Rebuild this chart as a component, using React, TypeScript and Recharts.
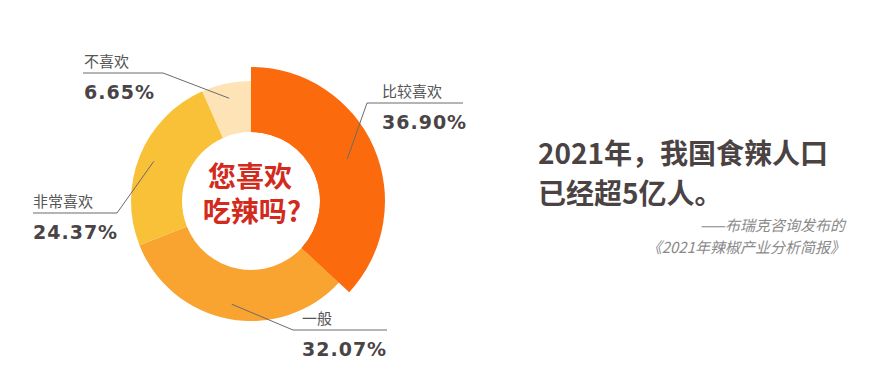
import React from "react";
import { PieChart, Pie, Cell } from "recharts";

const names = ["比较喜欢", "一般", "非常喜欢", "不喜欢"];
const shares = [36.9, 32.07, 24.37, 6.65];
const colors = ["#FB6A0C", "#F9A331", "#F9C137", "#FDE3B6"];

const rows = names.map((name, i) => ({ name, value: shares[i] }));

// where each leader line bends and where its text sits
const anchors = [
  { ex: 367, ey: 103, lx: 463, tx: 382 },
  { ex: 293, ey: 330, lx: 387, tx: 302 },
  { ex: 117, ey: 213, lx: 33, tx: 33 },
  { ex: 163, ey: 73, lx: 83, tx: 84 },
];

const RAD = Math.PI / 180;

function renderLabel(props: any) {
  const { cx, cy, midAngle, index, name, value } = props;
  const a = anchors[index];
  const r = 105;
  const sx = cx + r * Math.cos(-midAngle * RAD);
  const sy = cy + r * Math.sin(-midAngle * RAD);
  return (
    <g key={`lbl-${index}`}>
      <polyline
        points={`${sx},${sy} ${a.ex},${a.ey} ${a.lx},${a.ey}`}
        fill="none"
        stroke="#6b6b6b"
        strokeWidth={1}
      />
      <text
        x={a.tx}
        y={a.ey - 6}
        fill="#555"
        fontSize={15}
        fontFamily="'Noto Sans CJK SC', sans-serif"
      >
        {name}
      </text>
      <text
        x={a.tx}
        y={a.ey + 26}
        fill="#4a4446"
        fontSize={19}
        fontWeight={700}
        letterSpacing={1}
        fontFamily="'DejaVu Sans', sans-serif"
      >
        {value.toFixed(2)}%
      </text>
    </g>
  );
}

const centerLine: React.CSSProperties = {
  position: "absolute",
  left: 188,
  width: 124,
  height: 34,
  textAlign: "center",
  color: "#D32A1E",
  fontSize: 28,
  fontWeight: 700,
  lineHeight: "34px",
  fontFamily: "'Noto Sans CJK SC', sans-serif",
};

export default function App() {
  return (
    <div
      style={{
        position: "absolute",
        left: 0,
        top: 0,
        width: 885,
        height: 383,
        background: "#fff",
        overflow: "hidden",
      }}
    >
      <PieChart width={885} height={383}>
        <Pie
          data={rows}
          dataKey="value"
          nameKey="name"
          cx={246}
          cy={196}
          innerRadius={69}
          outerRadius={120}
          startAngle={90}
          endAngle={-270}
          stroke="none"
          isAnimationActive={false}
          labelLine={false}
          label={renderLabel}
        >
          {rows.map((r, i) => (
            <Cell key={r.name} fill={colors[i]} />
          ))}
        </Pie>
        <Pie
          data={rows}
          dataKey="value"
          nameKey="name"
          cx={246}
          cy={196}
          innerRadius={69}
          outerRadius={134}
          startAngle={90}
          endAngle={-270}
          stroke="none"
          isAnimationActive={false}
        >
          {rows.map((r, i) => (
            <Cell key={r.name} fill={i === 0 ? colors[0] : "transparent"} />
          ))}
        </Pie>
      </PieChart>

      <div style={{ ...centerLine, top: 158 }}>您喜欢</div>
      <div style={{ ...centerLine, top: 193, left: 190 }}>吃辣吗?</div>

      <div
        style={{
          position: "absolute",
          left: 538,
          top: 132,
          color: "#4b4343",
          fontSize: 28,
          fontWeight: 700,
          lineHeight: "40px",
          whiteSpace: "nowrap",
          fontFamily: "'Noto Sans CJK SC', sans-serif",
        }}
      >
        2021年，我国食辣人口
        <br />
        已经超5亿人。
      </div>

      <div
        style={{
          position: "absolute",
          right: 40,
          top: 214,
          textAlign: "right",
          color: "#8a8a8a",
          fontSize: 15,
          fontStyle: "italic",
          lineHeight: "22px",
          whiteSpace: "nowrap",
          fontFamily: "'Noto Sans CJK SC', sans-serif",
        }}
      >
        ——布瑞克咨询发布的
        <br />
        《2021年辣椒产业分析简报》
      </div>
    </div>
  );
}
